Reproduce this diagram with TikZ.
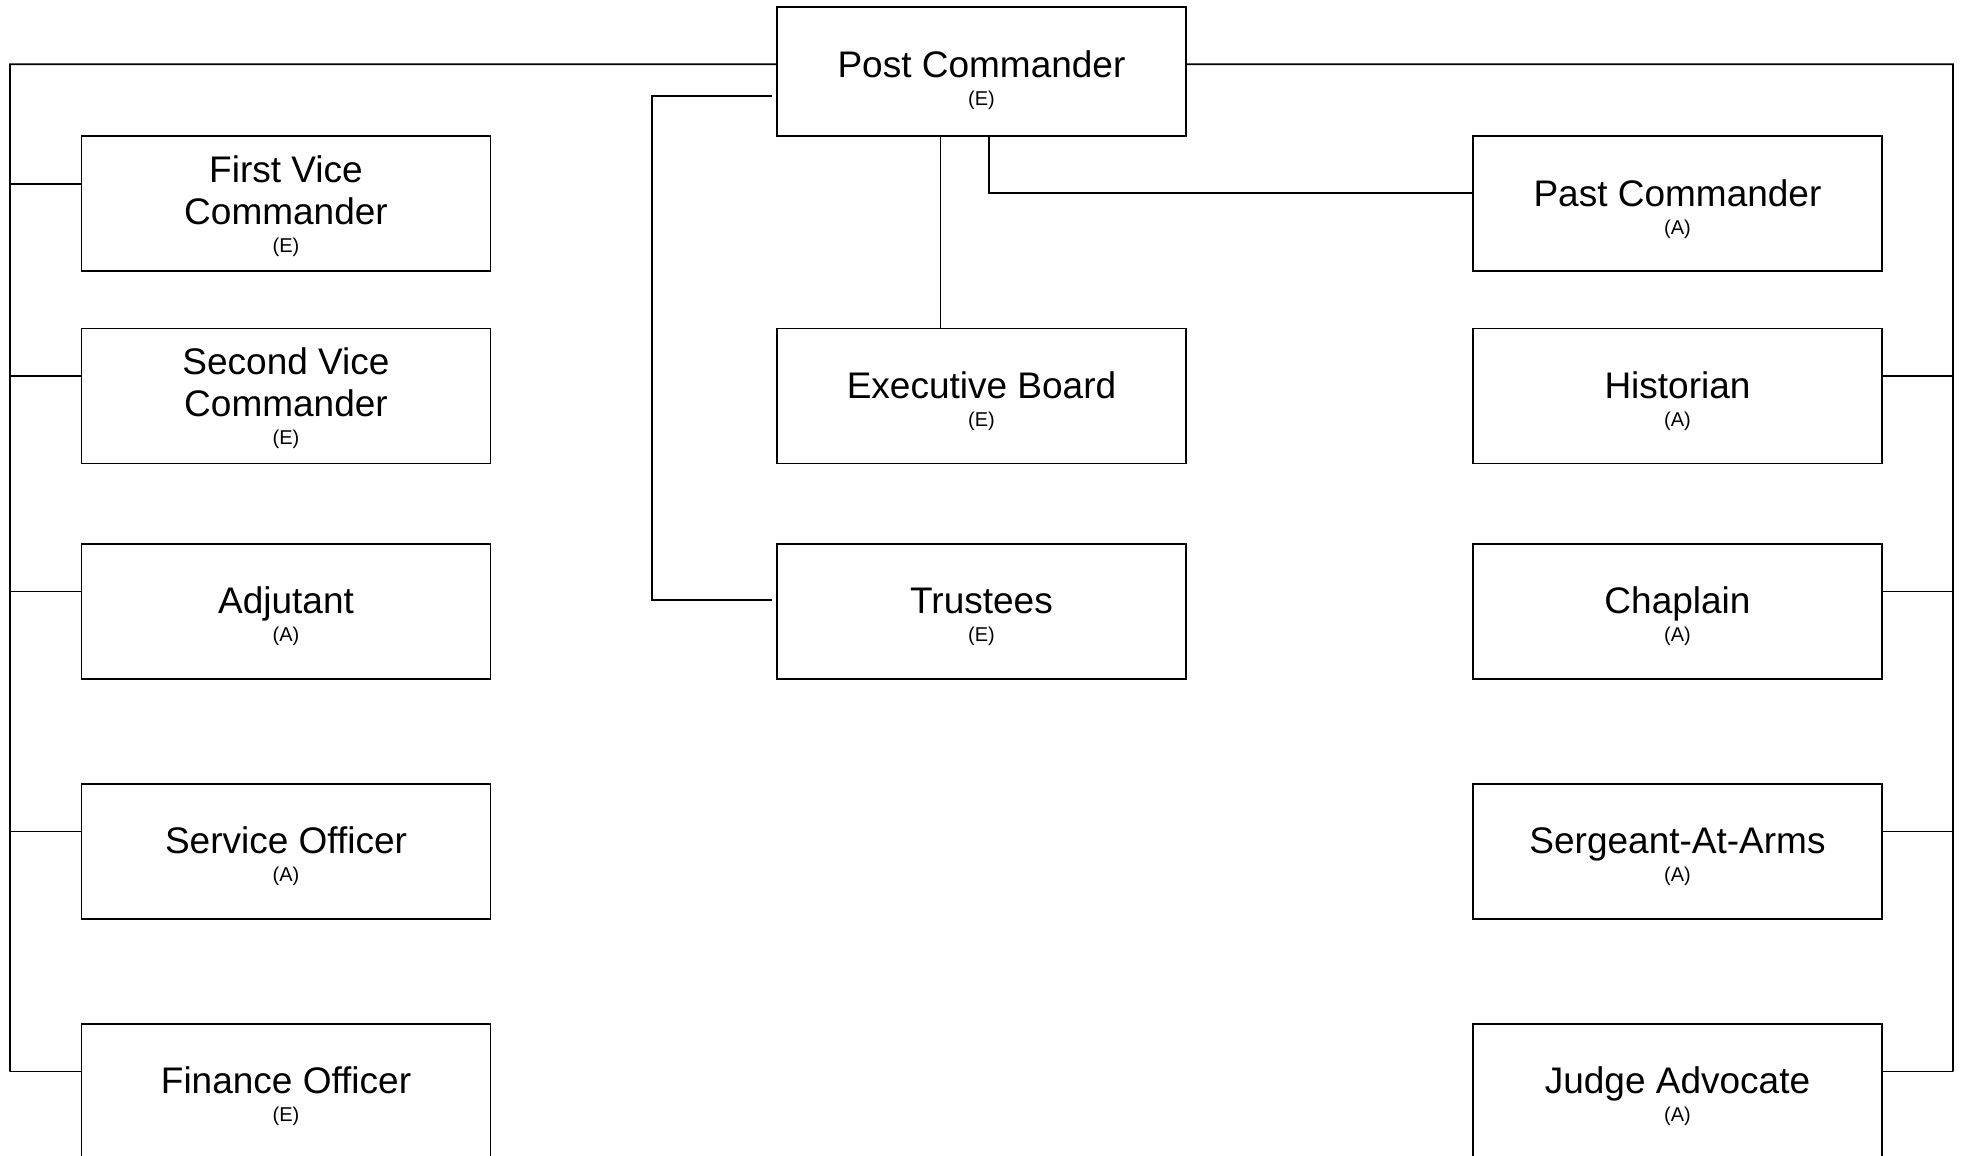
\documentclass[tikz,border=0pt]{standalone}
\usepackage{fontspec}
\setmainfont{Liberation Sans}
\usetikzlibrary{calc}
\newcommand{\rolebig}{\fontsize{18.5}{21}\selectfont}
\newcommand{\rolesmall}{\fontsize{10}{12}\selectfont}
% #1 title lines, #2 tag, #3 strut height (shifts text down)
\newcommand{\offtext}[3]{\rule{0pt}{#3}#1\\[-7pt]{\rolesmall #2}}
\begin{document}
\begin{tikzpicture}[x=0.5pt,y=-0.5pt,line width=0.9pt,
  office/.style={draw,rectangle,minimum width=204.5pt,minimum height=67.5pt,
    align=center,font=\rolebig,inner sep=2pt},
  link/.style={draw,line width=0.9pt}]
\useasboundingbox (0,0) rectangle (1961,1156);
\fill[white] (0,0) rectangle (1961,1156);
% top
\node[office,minimum height=64.5pt] (pc) at (981.5,71.5) {\offtext{Post Commander}{(E)}{22.5pt}};
% left column
\node[office] (fv) at (286,203.75) {\offtext{First Vice\\Commander}{(E)}{16pt}};
\node[office] (sv) at (286,396) {\offtext{Second Vice\\Commander}{(E)}{16pt}};
\node[office] (adj) at (286,611.5) {\offtext{Adjutant}{(A)}{18.5pt}};
\node[office] (svc) at (286,851.5) {\offtext{Service Officer}{(A)}{18.5pt}};
\node[office] (fin) at (286,1091.5) {\offtext{Finance Officer}{(E)}{18.5pt}};
% center column
\node[office] (eb) at (981.5,396) {\offtext{Executive Board}{(E)}{18.5pt}};
\node[office] (tr) at (981.5,611.5) {\offtext{Trustees}{(E)}{18.5pt}};
% right column
\node[office] (past) at (1677.5,203.75) {\offtext{Past Commander}{(A)}{18.5pt}};
\node[office] (his) at (1677.5,396) {\offtext{Historian}{(A)}{18.5pt}};
\node[office] (chap) at (1677.5,611.5) {\offtext{Chaplain}{(A)}{18.5pt}};
\node[office] (sgt) at (1677.5,851.5) {\offtext{Sergeant-At-Arms}{(A)}{18.5pt}};
\node[office] (ja) at (1677.5,1091.5) {\offtext{Judge Advocate}{(A)}{18.5pt}};
% bus coordinates
\coordinate (lt) at (10,64.3);
\coordinate (rt) at (1953,64.3);
\coordinate (pcl) at ($(pc.west)+(0,-7.2)$);
\coordinate (pcr) at ($(pc.east)+(0,-7.2)$);
\foreach \n in {fv,sv,adj,svc,fin}{
  \coordinate (\n-in) at ($(\n.west)+(0,-20)$);
  \draw[link] (\n-in) -- (\n-in -| lt);
}
\foreach \n in {his,chap,sgt,ja}{
  \coordinate (\n-in) at ($(\n.east)+(0,-20)$);
  \draw[link] (\n-in) -- (\n-in -| rt);
}
\draw[link] (pcl) -- (lt) -- (fin-in -| lt);
\draw[link] (pcr) -- (rt) -- (ja-in -| rt);
% executive board
\draw[link] ($(pc.south)+(-41,0)$) -- ($(eb.north)+(-41,0)$);
% past commander
\coordinate (pastin) at ($(past.west)+(0,-11)$);
\draw[link] ($(pc.south)+(7.5,0)$) |- (pastin);
% trustees
\coordinate (tbx) at (652,400);
\draw[link] ($(pc.west)+(-4,24.5)$) -| (tbx) |- ($(tr.west)+(-4,-11.5)$);
\end{tikzpicture}
\end{document}
